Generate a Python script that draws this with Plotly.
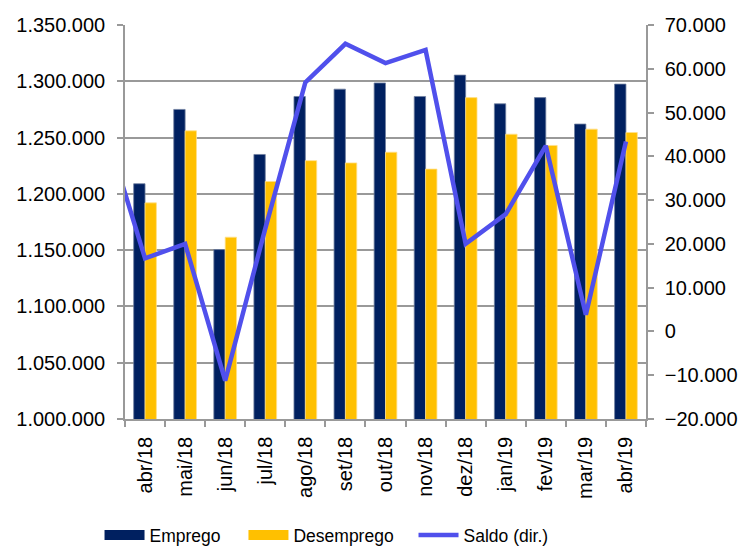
import plotly.graph_objects as go

categories = ["abr/18", "mai/18", "jun/18", "jul/18", "ago/18", "set/18", "out/18",
              "nov/18", "dez/18", "jan/19", "fev/19", "mar/19", "abr/19"]
emprego = [1209000, 1275000, 1150500, 1235000, 1286500, 1293000, 1298500,
           1286500, 1305500, 1280000, 1285500, 1262000, 1297500]
desemprego = [1192000, 1256000, 1161500, 1211000, 1229500, 1227500, 1237000,
              1222000, 1285500, 1253000, 1243000, 1257500, 1254500]
# previous month (mar/18), only its segment entering the plot is visible
saldo_prev = 46500
saldo = [16700, 20000, -11250, 23500, 56900, 65700, 61300,
         64300, 20000, 26800, 42400, 3800, 43400]

left_ticks = list(range(1000000, 1350001, 50000))
right_ticks = list(range(-20000, 70001, 10000))

NAVY = "#002060"
GOLD = "#FFC000"
LINE = "#5050EC"
GRID = "#999999"
FONT = "Liberation Sans, Arial, sans-serif"

xs = list(range(len(categories)))

fig = go.Figure()
fig.add_trace(go.Bar(x=xs, y=emprego, name="Emprego",
                     marker=dict(color=NAVY, line=dict(color="#6F7FA0", width=0.8)),
                     showlegend=False))
fig.add_trace(go.Bar(x=xs, y=desemprego, name="Desemprego",
                     marker=dict(color=GOLD, line=dict(color="#FFE08A", width=0.8)),
                     showlegend=False))
fig.add_trace(go.Scatter(x=[-1] + xs, y=[saldo_prev] + saldo, name="Saldo (dir.)", yaxis="y2",
                         mode="lines", line=dict(color=LINE, width=4.5), showlegend=False))

# legend entries (wide patches like the original), one legend box each
fig.add_trace(go.Scatter(x=[None], y=[None], mode="lines", name="Emprego",
                         line=dict(color=NAVY, width=10), legend="legend"))
fig.add_trace(go.Scatter(x=[None], y=[None], mode="lines", name="Desemprego",
                         line=dict(color=GOLD, width=10), legend="legend2"))
fig.add_trace(go.Scatter(x=[None], y=[None], mode="lines", name="Saldo (dir.)",
                         line=dict(color=LINE, width=4.5), legend="legend3"))

def leg(x):
    return dict(orientation="h", xref="container", yref="container",
                x=x, xanchor="left", y=0.0237, yanchor="middle",
                font=dict(size=17.5), itemwidth=40, bgcolor="rgba(0,0,0,0)")

fig.update_layout(
    width=740, height=548,
    margin=dict(l=125, r=94, t=25, b=129, autoexpand=False),
    paper_bgcolor="white", plot_bgcolor="white",
    separators=",.",
    barmode="group", bargap=0.433, bargroupgap=0,
    font=dict(family=FONT, size=20, color="#000000"),
    xaxis=dict(
        range=[-0.5, 12.5], tickmode="array", tickvals=xs, ticktext=categories,
        tickangle=-90, ticks="", showgrid=False, zeroline=False,
        showline=True, linecolor=GRID, linewidth=1.5,
        ticklabelstandoff=8, automargin=False,
        minor=dict(tickmode="linear", tick0=0.5, dtick=1, ticks="outside", ticklen=6,
                   tickcolor=GRID, tickwidth=1.5, showgrid=False),
        tickfont=dict(size=20),
    ),
    yaxis=dict(
        range=[1000000, 1350000], tickmode="array", tickvals=left_ticks,
        tickformat=",d", ticks="outside", ticklen=6, tickcolor=GRID, tickwidth=1.5,
        showgrid=True, gridcolor=GRID, gridwidth=1.5, zeroline=False,
        showline=True, linecolor=GRID, linewidth=1.5, ticklabelstandoff=8,
        automargin=False, tickfont=dict(size=20),
    ),
    yaxis2=dict(
        range=[-20000, 70000], tickmode="array", tickvals=right_ticks,
        tickformat=",d", overlaying="y", side="right", ticks="outside", ticklen=6,
        tickcolor=GRID, tickwidth=1.5, showgrid=False, zeroline=False,
        showline=True, linecolor=GRID, linewidth=1.5, ticklabelstandoff=7,
        automargin=False, tickfont=dict(size=20),
    ),
    legend=leg(0.1345),
    legend2=leg(0.329),
    legend3=leg(0.5588),
)

fig.write_html("out.html", default_width="740px", default_height="548px",
               config={"displayModeBar": False},
               post_script="document.body.style.margin='0';document.body.style.overflow='hidden';")
